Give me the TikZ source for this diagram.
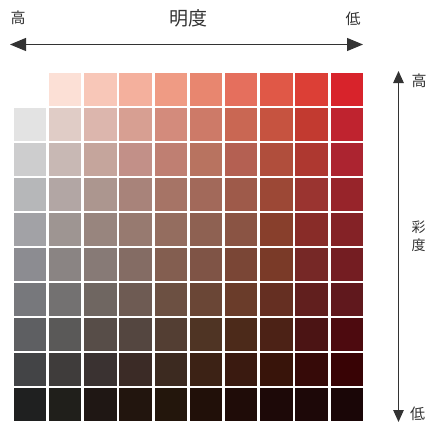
\documentclass[tikz,border=0pt]{standalone}
\usepackage{fontspec}
\newfontfamily\jp{Noto Sans CJK JP}
\usetikzlibrary{positioning, arrows.meta}

\definecolor{ink}{HTML}{333333}
\tikzset{
	cell/.style={anchor=north west, inner sep=0pt, minimum size=32.5pt, draw=none},
	axis/.style={ink, line width=1.2pt},
	axislabel/.style={ink, inner sep=0pt, font=\jp\fontsize{15}{15}\selectfont},
}

\begin{document}
\begin{tikzpicture}[x=1pt,y=-1pt]
	\useasboundingbox (0,0) rectangle (426,423);
	% colour chart, row by row (first cell of the top row is left out)
	\foreach \r/\first/\row in {
		1/2/{FCE0D6,F8C7B8,F4B09D,EF9B84,E8866F,E56F5D,E05847,DC3F36,D8232B},
		2/1/{E3E3E3,E0CCC6,DCB6AD,D79F92,D38B7C,CD7A68,C96753,C65340,C23A30,BF232F},
		3/1/{CDCDCE,C8B8B4,C5A59C,C29088,BF7F72,B87360,B46052,B04E3C,AE3830,AC2430},
		4/1/{B6B7B9,B2A6A4,AC968F,A8837A,A67466,A2695A,9E5A4A,9C4836,9A3430,97242A},
		5/1/{A2A2A6,9E9592,98857E,977A70,946D5F,8E6152,8A5444,883F2C,882C28,842226},
		6/1/{8C8C91,8A8483,877A76,846C64,835E50,7F5446,7A4636,7A3A28,762826,741D22},
		7/1/{77787C,737171,6F6661,6E5B53,6C5042,6A4636,6A3C2A,652F22,611F1E,60181D},
		8/1/{5E5F62,5A5958,574D48,544640,533E33,4F3424,4C2A1A,4C2216,4B1414,4D0A0F},
		9/1/{434446,3F3C3B,3A3231,3B2B26,3C2A20,3C2215,3A1A10,38140A,360A08,380305},
		10/1/{1F2020,201F1B,1F1714,22150E,23160C,211009,1F0C08,1D0908,1D0808,1A0607}}{
		\foreach [count=\c from \first] \hex in \row {
			\definecolor{tone}{HTML}{\hex}
			\node (c-\r-\c)[cell, fill=tone] at ({13.5+(\c-1)*35.2},{73+(\r-1)*35}) {};
		}
	}
	% lightness axis
	\coordinate (hl) at (10,44.5);
	\coordinate (hr) at (363,44.5);
	\draw[axis, {Triangle[length=16pt,width=13pt]}-{Triangle[length=16pt,width=13pt]}] (hl) -- (hr);
	\node (lhi)[axislabel] at (18,18) {高};
	\node (llo)[axislabel] at (353,18.5) {低};
	\node (lname)[axislabel, font=\jp\fontsize{19}{19}\selectfont] at (188,18.5) {明度};
	% chroma axis
	\coordinate (vt) at (398.5,71);
	\coordinate (vb) at (398.5,422);
	\draw[axis, {Triangle[length=12pt,width=10.5pt]}-{Triangle[length=12pt,width=10.5pt]}] (vt) -- (vb);
	\node (chi)[axislabel, right=13pt of vt, yshift=-10pt] {高};
	\node (clo)[axislabel, right=11.5pt of vb, yshift=8pt] {低};
	\node (cname)[axislabel, font=\jp\fontsize{14}{18}\selectfont, align=center] at (418.5,236.5) {彩\\度};
\end{tikzpicture}
\end{document}
